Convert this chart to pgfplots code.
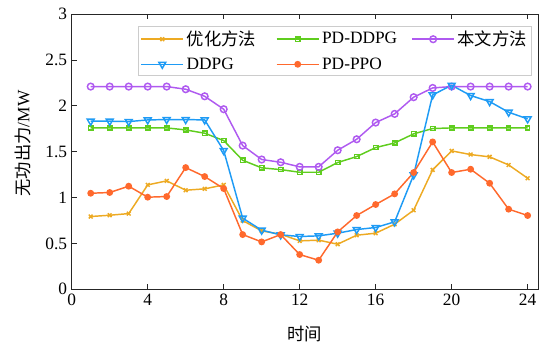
\documentclass[border=0pt]{standalone}
\usepackage{fontspec}
\setmainfont{Liberation Serif}
\newfontfamily\cjk{Noto Sans CJK SC}
\usepackage{pgfplots}
\pgfplotsset{compat=1.18}
\definecolor{cOpt}{RGB}{237,170,35}
\definecolor{cPDD}{RGB}{95,205,30}
\definecolor{cOur}{RGB}{175,90,240}
\definecolor{cDDPG}{RGB}{30,155,245}
\definecolor{cPPO}{RGB}{255,105,45}
\newcommand{\LE}[1]{\makebox[56pt][l]{#1}}
\begin{document}
\begin{tikzpicture}
\begin{axis}[
  name=ax,
  scale only axis, width=350pt, height=206.25pt,
  xmin=0, xmax=24.56, ymin=0, ymax=3,
  xtick={0,4,...,24}, ytick={0,0.5,...,3},
  xtick pos=both, xticklabel pos=lower, ytick pos=left,
  tick align=inside, major tick length=3.75pt,
  axis line style={line width=0.75pt, black!85},
  tick style={line width=0.75pt, black!85},
  /pgf/number format/assume math mode=true,
  tick label style={font=\fontsize{13}{15}\selectfont},
  label style={font=\fontsize{13}{15}\selectfont},
  xlabel={\cjk 时间}, ylabel={{\cjk 无功出力}/MW},
  xlabel style={at={(axis description cs:0.5,-0.163)}, anchor=center},
  ylabel style={at={(axis description cs:-0.105,0.53)}, anchor=center},
  legend columns=3, legend cell align=left,
  legend style={at={(0.1427,0.9575)}, anchor=north west, draw=black!20,
    font=\fontsize{13}{15}\selectfont, inner sep=1.5pt, row sep=3.5pt,
    /tikz/every even column/.append style={column sep=9pt}},
  legend image code/.code={\draw[line width=1.1pt, mark repeat=2,mark phase=2] plot coordinates {(0pt,0pt)(15.75pt,0pt)(31.5pt,0pt)};},
  every axis plot/.append style={line width=1.1pt},
]
\addplot[color=cOpt, mark=x, mark size=2pt] coordinates {
(1,0.793)(2,0.807)(3,0.825)(4,1.138)(5,1.182)(6,1.080)(7,1.095)(8,1.138)(9,0.749)(10,0.636)(11,0.600)(12,0.527)(13,0.535)(14,0.491)(15,0.589)(16,0.611)(17,0.709)(18,0.862)(19,1.302)(20,1.509)(21,1.469)(22,1.444)(23,1.356)(24,1.211)};
\addlegendentry{\LE{\cjk 优化方法}}
\addplot[color=cPDD, mark=square, mark size=1.6pt] coordinates {
(1,1.76)(2,1.76)(3,1.76)(4,1.76)(5,1.76)(6,1.738)(7,1.702)(8,1.622)(9,1.407)(10,1.324)(11,1.305)(12,1.276)(13,1.276)(14,1.382)(15,1.447)(16,1.545)(17,1.596)(18,1.695)(19,1.753)(20,1.76)(21,1.76)(22,1.76)(23,1.76)(24,1.76)};
\addlegendentry{\LE{PD-DDPG}}
\addplot[color=cOur, mark=o, mark size=2.5pt] coordinates {
(1,2.211)(2,2.211)(3,2.211)(4,2.211)(5,2.211)(6,2.182)(7,2.105)(8,1.964)(9,1.567)(10,1.415)(11,1.385)(12,1.335)(13,1.335)(14,1.516)(15,1.636)(16,1.818)(17,1.913)(18,2.095)(19,2.196)(20,2.211)(21,2.211)(22,2.211)(23,2.211)(24,2.211)};
\addlegendentry{{\cjk 本文方法}}
\addplot[color=cDDPG, mark=triangle, mark size=3pt, every mark/.append style={rotate=180}] coordinates {
(1,1.833)(2,1.833)(3,1.829)(4,1.847)(5,1.851)(6,1.851)(7,1.847)(8,1.513)(9,0.775)(10,0.644)(11,0.593)(12,0.575)(13,0.582)(14,0.611)(15,0.651)(16,0.673)(17,0.735)(18,1.247)(19,2.120)(20,2.225)(21,2.113)(22,2.047)(23,1.931)(24,1.858)};
\addlegendentry{\LE{DDPG}}
\addplot[color=cPPO, mark=*, mark size=2pt] coordinates {
(1,1.047)(2,1.055)(3,1.124)(4,1.004)(5,1.011)(6,1.327)(7,1.229)(8,1.098)(9,0.596)(10,0.516)(11,0.596)(12,0.378)(13,0.316)(14,0.625)(15,0.804)(16,0.924)(17,1.040)(18,1.273)(19,1.607)(20,1.273)(21,1.309)(22,1.156)(23,0.873)(24,0.804)};
\addlegendentry{\LE{PD-PPO}}
\end{axis}
\pgfresetboundingbox
\path[use as bounding box] ([shift={(-53.8pt,-40.3pt)}]ax.south west) rectangle ([shift={(1.3pt,10.7pt)}]ax.north east);
\end{tikzpicture}
\end{document}
